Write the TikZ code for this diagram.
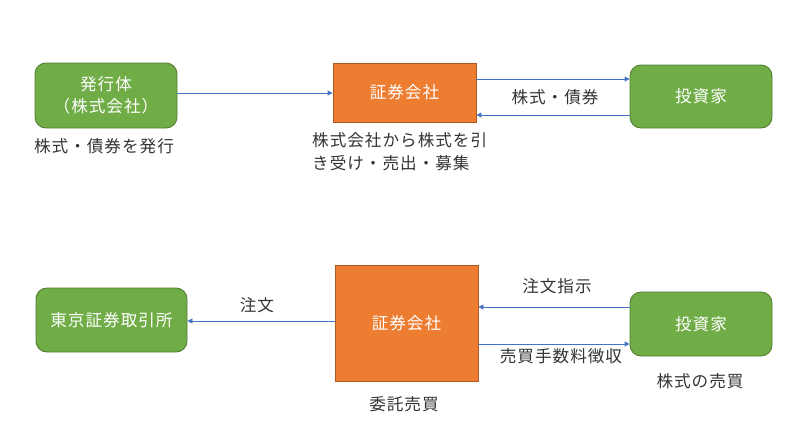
\documentclass[tikz,border=0pt]{standalone}
\usepackage{fontspec}
\newfontfamily\jp[LetterSpace=6]{Noto Sans CJK JP}
\usetikzlibrary{arrows.meta}
\definecolor{gfill}{HTML}{70AD47}
\definecolor{gdraw}{HTML}{507E32}
\definecolor{ofill}{HTML}{ED7D31}
\definecolor{odraw}{HTML}{AE5A21}
\definecolor{arr}{HTML}{4472C4}
\definecolor{txt}{HTML}{333333}
\begin{document}
\begin{tikzpicture}[x=1pt,y=-1pt,
  font=\jp\fontsize{16.6}{22}\selectfont,
  gbox/.style={draw=gdraw,fill=gfill,line width=0.9pt,rounded corners=11pt,text=white,align=center,inner sep=0pt},
  obox/.style={draw=odraw,fill=ofill,line width=0.9pt,text=white,align=center,inner sep=0pt},
  conn/.style={draw=arr,line width=0.9pt,-{Triangle[length=5pt,width=5pt]}},
  lbl/.style={text=txt,inner sep=0pt,align=left}]
\useasboundingbox (0,0) rectangle (800,445);
% top row
\node[gbox,minimum width=142,minimum height=65] (iss) at (106,95.5) {発行体\\（株式会社）};
\node[obox,minimum width=143,minimum height=59] (sec1) at (404.5,92.5) {証券会社};
\node[gbox,minimum width=142,minimum height=63] (inv1) at (701,96.5) {投資家};
\draw[conn] (iss.east |- 0,93) -- (sec1.west |- 0,93);
\draw[conn] (sec1.east |- 0,79) -- (inv1.west |- 0,79);
\draw[conn] (inv1.west |- 0,115) -- (sec1.east |- 0,115);
\node[lbl] (l1) at (555,97) {株式・債券};
\node[lbl] (l2) at (104,146) {株式・債券を発行};
\node[lbl,anchor=west] (l3) at (312,140) {株式会社から株式を引};
\node[lbl,anchor=west] (l4) at (312,163) {き受け・売出・募集};
% bottom row
\node[gbox,minimum width=151,minimum height=64] (tse) at (111.5,320) {東京証券取引所};
\node[obox,minimum width=143,minimum height=116] (sec2) at (406.5,323) {証券会社};
\node[gbox,minimum width=142,minimum height=64] (inv2) at (701,324) {投資家};
\draw[conn] (sec2.west |- 0,321) -- (tse.east |- 0,321);
\draw[conn] (inv2.west |- 0,307) -- (sec2.east |- 0,307);
\draw[conn] (sec2.east |- 0,344) -- (inv2.west |- 0,344);
\node[lbl] (l5) at (257,305) {注文};
\node[lbl] (l6) at (557,286) {注文指示};
\node[lbl] (l7) at (561,356) {売買手数料徴収};
\node[lbl] (l8) at (700,381) {株式の売買};
\node[lbl] (l9) at (404,404) {委託売買};
\end{tikzpicture}
\end{document}
